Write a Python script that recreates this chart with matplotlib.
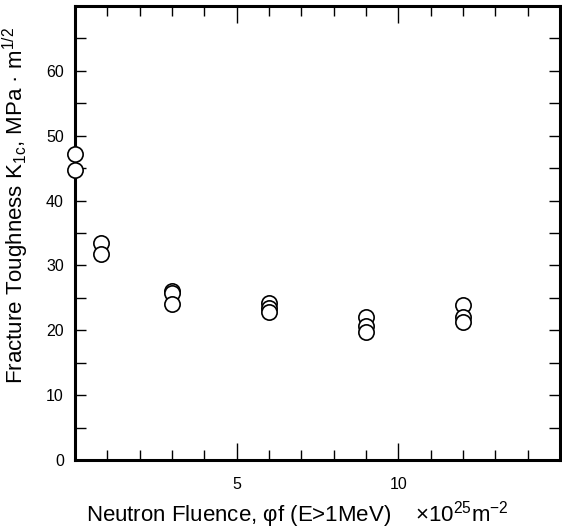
import matplotlib.pyplot as plt
from matplotlib.ticker import MultipleLocator

plt.rcParams['font.family'] = ['Liberation Sans', 'DejaVu Sans']
plt.rcParams['mathtext.fontset'] = 'custom'
plt.rcParams['mathtext.rm'] = 'Liberation Sans'

# fluence (x10^25 m^-2) and fracture toughness (MPa m^1/2)
fluence = [0, 0, 0.8, 0.8, 3, 3, 3, 6, 6, 6, 9, 9, 9, 12, 12, 12]
toughness = [47.2, 44.7, 33.5, 31.8, 26.0, 25.8, 24.0, 24.2, 23.5, 22.8,
             22.1, 20.6, 19.8, 23.9, 22.1, 21.3]

fig = plt.figure(figsize=(5.62, 5.32), dpi=100)
ax = fig.add_axes([0.1335, 0.1353, 0.8629, 0.8534])

ax.plot(fluence, toughness, 'o', mfc='white', mec='black', mew=1.2,
        ms=11, clip_on=False, zorder=3)

ax.set_xlim(0, 15)
ax.set_ylim(0, 70)
ax.xaxis.set_minor_locator(MultipleLocator(1))
ax.yaxis.set_minor_locator(MultipleLocator(5))
ax.set_xticks([5, 10])
ax.set_yticks([0, 10, 20, 30, 40, 50, 60])

for s in ax.spines.values():
    s.set_linewidth(2.2)

ax.tick_params(which='both', direction='in', top=True, right=True,
               width=1.0, labelsize=11.5, colors='black')
ax.tick_params(axis='x', which='major', length=12, pad=12)
ax.tick_params(axis='x', which='minor', length=7)
ax.tick_params(axis='y', which='both', length=8, pad=8)

ax.set_ylabel('Fracture Toughness K$_{\\mathregular{1c}}$, MPa · m$^{\\mathregular{1/2}}$',
              fontsize=16)
ax.yaxis.set_label_coords(-0.09, 0.56)
ax.set_xlabel('Neutron Fluence, φf (E>1MeV)    ×10$^{\\mathregular{25}}$m$^{\\mathregular{-2}}$',
              fontsize=16)
ax.xaxis.set_label_coords(0.459, -0.085)

plt.savefig('out.png', dpi=100)
